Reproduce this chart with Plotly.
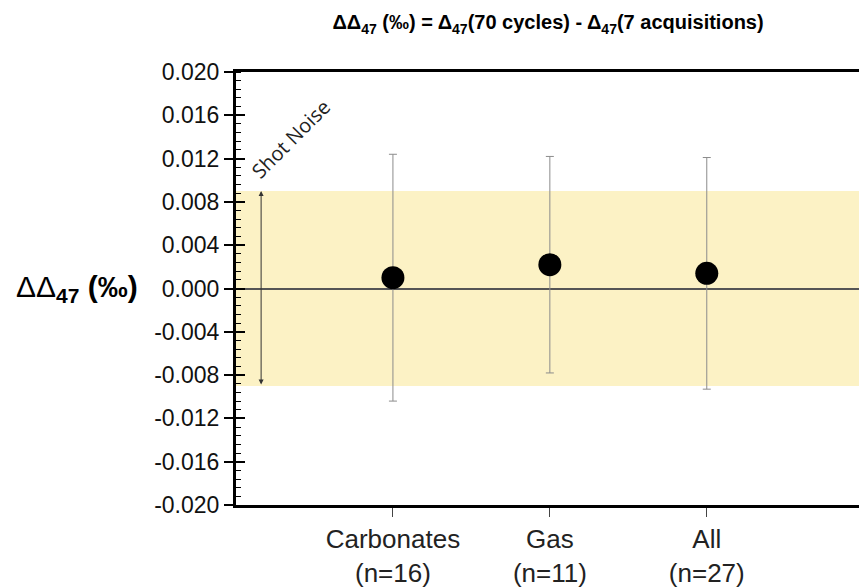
import plotly.graph_objects as go

categories = ["Carbonates<br>(n=16)", "Gas<br>(n=11)", "All<br>(n=27)"]
cat_pos = [1, 2, 3]
delta_values = [0.0010, 0.0022, 0.0014]
delta_errors = [0.0114, 0.0100, 0.0107]
shot_noise = 0.009
y_ticks = [0.020, 0.016, 0.012, 0.008, 0.004, 0.000, -0.004, -0.008, -0.012, -0.016, -0.020]
y_tick_labels = ["0.020", "0.016", "0.012", "0.008", "0.004", "0.000", "-0.004", "-0.008", "-0.012", "-0.016", "-0.020"]

FONT = "Liberation Sans, Arial, sans-serif"

fig = go.Figure()

fig.add_trace(go.Scatter(
    x=cat_pos, y=delta_values, mode="markers",
    marker=dict(size=23, color="black"),
    error_y=dict(type="data", array=delta_errors, visible=True,
                 color="#8c8c8c", thickness=1, width=4),
    showlegend=False, hoverinfo="skip",
))
# helper trace so the inside major ticks axis is drawn
fig.add_trace(go.Scatter(x=cat_pos, y=delta_values, yaxis="y2", mode="none",
                         showlegend=False, hoverinfo="skip"))

# shot-noise band
fig.add_shape(type="rect", xref="paper", yref="y", x0=0, x1=1,
              y0=-shot_noise, y1=shot_noise, fillcolor="#FCF2C5",
              line=dict(width=0), layer="below")

# double-headed arrow
fig.add_annotation(x=0.16, y=shot_noise, ax=0.16, ay=-shot_noise,
                   xref="x", yref="y", axref="x", ayref="y",
                   showarrow=True, arrowhead=2, arrowside="end+start",
                   arrowsize=1, arrowwidth=1, arrowcolor="#333333", text="")
fig.add_annotation(x=0.35, y=0.0139, xref="x", yref="y", text="Shot Noise",
                   showarrow=False, textangle=-45,
                   font=dict(family="Open Sans, sans-serif", size=20, color="#222"))

# y-axis title
fig.add_annotation(xref="paper", yref="y", x=-0.356, y=0.0, xanchor="left",
                   yanchor="middle", showarrow=False,
                   text="ΔΔ<sub><b>47</b></sub> <b>(‰)</b>",
                   font=dict(family=FONT, size=30, color="black"))

fig.update_layout(
    width=859, height=587,
    margin=dict(l=236, r=0, t=72, b=82),
    plot_bgcolor="white", paper_bgcolor="white",
    title=dict(text="<b>ΔΔ<sub>47</sub> (‰) = Δ<sub>47</sub>(70 cycles) - Δ<sub>47</sub>(7 acquisitions)</b>",
               x=0.638, xref="container", xanchor="center",
               y=0.962, yref="container", yanchor="middle",
               font=dict(family=FONT, size=20, color="black")),
    xaxis=dict(range=[0, 3.97], tickmode="array", tickvals=cat_pos, ticktext=categories,
               showline=True, linewidth=3, linecolor="black", mirror=True,
               ticks="outside", ticklen=9, tickwidth=1, tickcolor="#444",
               showgrid=False, zeroline=False,
               tickfont=dict(family=FONT, size=26, color="#222")),
    yaxis=dict(range=[-0.020, 0.020], tickmode="array", tickvals=y_ticks, ticktext=y_tick_labels,
               showline=True, linewidth=3, linecolor="black", mirror=False,
               ticks="outside", ticklen=9, tickwidth=1.5, tickcolor="black",
               showgrid=False, zeroline=True, zerolinecolor="#555555", zerolinewidth=1.5,
               minor=dict(tickmode="linear", tick0=0, dtick=0.0008, ticks="inside",
                          ticklen=5, tickwidth=1.2, tickcolor="black"),
               tickfont=dict(family=FONT, size=23, color="#111")),
    yaxis2=dict(range=[-0.020, 0.020], overlaying="y", side="left", anchor="x",
                tickmode="array", tickvals=y_ticks, showticklabels=False,
                ticks="inside", ticklen=9, tickwidth=1.5, tickcolor="black",
                showline=False, showgrid=False, zeroline=False),
)

fig.write_html("out.html", config={"displayModeBar": False},
               post_script="document.body.style.margin='0';document.body.style.overflow='hidden';")
